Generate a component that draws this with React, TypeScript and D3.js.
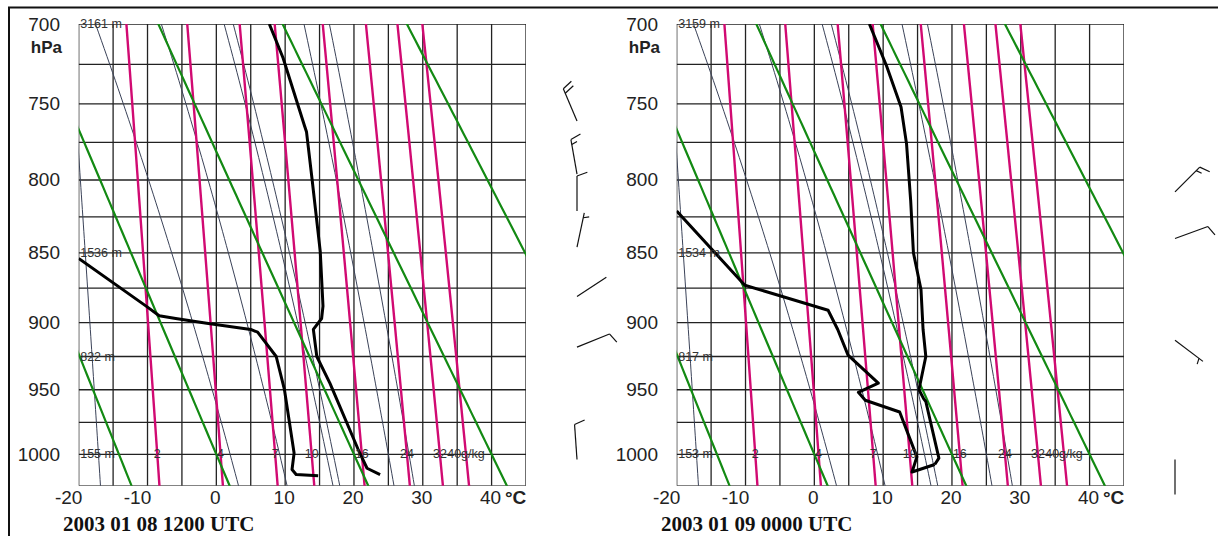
import React from 'react';
import * as d3 from 'd3';

// ---------- data ----------
const isobarLevels = [700, 725, 750, 775, 800, 825, 850, 875, 900, 925, 950, 975, 1000, 1025];
const isothermValues = [-20, -15, -10, -5, 0, 5, 10, 15, 20, 25, 30, 35, 40, 45];
const pressureLabels = [700, 750, 800, 850, 900, 950, 1000];
const tempLabels = [-20, -10, 0, 10, 20, 30, 40];
const dryThetaK = [259, 273.15, 293.15, 313.15, 333.15];
const mixRatios = [2, 4, 7, 10, 16, 24, 32, 40];
const mixLabels = ['2', '4', '7', '10', '16', '24', '32', '40g/kg'];
const thinMixRatios = [1];
const moistT1000 = [2, 9.2, 16, 17, 25, 28];
const heightLevels = [700, 850, 925, 1000];
const heightsA = ['3161 m', '1536 m', '822 m', '155 m'];
const heightsB = ['3159 m', '1534 m', '817 m', '153 m'];

// [pressure hPa, temperature °C]
const tempA: [number, number][] = [
  [700, 7.7], [721, 9.7], [764, 12.8], [768, 13.1], [799, 13.9], [849, 15.1], [888, 15.5],
  [897, 15.3], [905, 14.1], [925, 14.6], [945, 16.5], [996, 20.6], [1011, 21.9], [1016, 23.8],
];
const dewA: [number, number][] = [
  [854, -20], [888, -10.2], [895, -8.3], [897, -5.9], [900.5, -1.4], [905, 5.0], [907, 6.0],
  [925, 8.7], [950, 9.9], [999, 11.3], [1012, 11.0], [1016, 11.6], [1017, 14.8],
];
const tempB: [number, number][] = [
  [700, 8.0], [726, 10.5], [752, 12.6], [776, 13.4], [814, 14.0], [850, 14.4], [876, 15.5],
  [905, 15.8], [925, 16.2], [950, 15.2], [957, 15.9], [959, 16.2], [1003, 18.1], [1008, 17.5],
];
const dewB: [number, number][] = [
  [821, -20], [873, -10.1], [891, 2.0], [905, 3.4], [924, 4.9], [945, 9.3], [952, 6.4],
  [958, 7.4], [967, 12.4], [1002, 14.9], [1014, 14.2], [1008, 17.5],
];
// [pressure, direction deg, speed kt]
const windA: [number, number, number][] = [
  [761, 337, 20], [796, 350, 15], [821, 360, 10], [846, 12, 5], [881, 57, 0], [918, 68, 10], [1004, 356, 10],
];
const windB: [number, number, number][] = [
  [808, 45, 15], [840, 70, 10], [913, 127, 5], [1004, 180, 0],
];

// ---------- physics helpers for guide lines ----------
const KAPPA = 0.286;
const Rd = 287.04, CP = 1005.7, LV = 2.501e6, EPS = 0.622;
const satVap = (tc: number) => 6.112 * Math.exp((17.67 * tc) / (tc + 243.5));
const dewFromMix = (w: number, p: number) => {
  const e = (w * p) / (622 + w);
  const l = Math.log(e / 6.112);
  return (243.5 * l) / (17.67 - l);
};
const lapse = (p: number, T: number) => {
  const es = satVap(T - 273.15);
  const rs = (EPS * es) / (p - es);
  return ((Rd * T + LV * rs) / p) / (CP + (LV * LV * rs * EPS) / (Rd * T * T));
};
const moistLine = (t1000: number) => {
  const up: [number, number][] = [];
  let T = t1000 + 273.15;
  for (let p = 1000; p >= 695; p -= 5) {
    up.push([p, T - 273.15]);
    const k1 = lapse(p, T);
    const k2 = lapse(p - 2.5, T - 2.5 * k1);
    T -= 5 * k2;
  }
  const down: [number, number][] = [];
  T = t1000 + 273.15;
  for (let p = 1000; p <= 1030; p += 5) {
    down.push([p, T - 273.15]);
    const k1 = lapse(p, T);
    const k2 = lapse(p + 2.5, T + 2.5 * k1);
    T += 5 * k2;
  }
  return [...down.reverse(), ...up.slice(1)];
};
const pressSteps = d3.range(695, 1031, 5);

const GREEN = '#138a13';
const MAGENTA = '#d10a72';
const THIN = '#3a4258';
const GRID = '#222';

const yScale = d3.scalePow().exponent(KAPPA).domain([700, 1025]).range([24, 485.8]);

function Barb({ ax, ay, dir, spd }: { ax: number; ay: number; dir: number; spd: number }) {
  const L = 35;
  const r = (dir * Math.PI) / 180;
  const ux = Math.sin(r), uy = -Math.cos(r);
  const tx = ax + L * ux, ty = ay + L * uy;
  const px = -uy, py = ux;
  const ang = (70 * Math.PI) / 180;
  const fx = px * Math.sin(ang) + ux * Math.cos(ang);
  const fy = py * Math.sin(ang) + uy * Math.cos(ang);
  const feathers: any[] = [];
  let rem = Math.round(spd / 5) * 5;
  let pos = 0;
  let i = 0;
  while (rem >= 10) {
    const sx = tx - pos * ux, sy = ty - pos * uy;
    feathers.push(<line key={i++} x1={sx} y1={sy} x2={sx + 11 * fx} y2={sy + 11 * fy} />);
    rem -= 10; pos += 5;
  }
  if (rem >= 5) {
    if (pos === 0) pos = 5;
    const sx = tx - pos * ux, sy = ty - pos * uy;
    feathers.push(<line key={i++} x1={sx} y1={sy} x2={sx + 6 * fx} y2={sy + 6 * fy} />);
  }
  return (
    <g stroke="#111" strokeWidth={1.2} fill="none">
      <line x1={ax} y1={ay} x2={tx} y2={ty} />
      {feathers}
    </g>
  );
}

function Panel({ dx, title, heights, temp, dew, wind, id }: any) {
  const x = d3.scaleLinear().domain([-20, 45]).range([78.7 + dx, 526 + dx]);
  const y = yScale;
  const line = d3.line<[number, number]>().x((d) => x(d[1])).y((d) => y(d[0]));
  const x0 = x(-20), x1 = x(45), y0 = y(700), y1 = y(1025);
  return (
    <g>
      <defs>
        <clipPath id={id}>
          <rect x={x0} y={y0} width={x1 - x0} height={y1 - y0} />
        </clipPath>
      </defs>
      <g clipPath={`url(#${id})`}>
        {isobarLevels.map((p) => (
          <line key={'p' + p} x1={x0} x2={x1} y1={y(p)} y2={y(p)} stroke={GRID} strokeWidth={1.3} />
        ))}
        {isothermValues.map((t) => (
          <line key={'t' + t} x1={x(t)} x2={x(t)} y1={y0} y2={y1} stroke={GRID} strokeWidth={1.3} />
        ))}
        {moistT1000.map((t) => (
          <path key={'m' + t} d={line(moistLine(t)) || ''} fill="none" stroke={THIN} strokeWidth={1} />
        ))}
        {thinMixRatios.map((w) => (
          <path key={'tw' + w} d={line(pressSteps.map((p) => [p, dewFromMix(w, p)] as [number, number])) || ''}
            fill="none" stroke={THIN} strokeWidth={1} />
        ))}
        {mixRatios.map((w) => (
          <path key={'w' + w} d={line(pressSteps.map((p) => [p, dewFromMix(w, p)] as [number, number])) || ''}
            fill="none" stroke={MAGENTA} strokeWidth={2.4} />
        ))}
        {dryThetaK.map((th) => (
          <path key={'d' + th}
            d={line(pressSteps.map((p) => [p, th * Math.pow(p / 1000, KAPPA) - 273.15] as [number, number])) || ''}
            fill="none" stroke={GREEN} strokeWidth={2.2} />
        ))}
        <path d={line(temp) || ''} fill="none" stroke="#000" strokeWidth={3} strokeLinejoin="round" />
        <path d={line(dew) || ''} fill="none" stroke="#000" strokeWidth={3} strokeLinejoin="round" />
      </g>
      {heightLevels.map((p, i) => (
        <text key={'h' + p} x={x0 + 1.5} y={y(p)} dominantBaseline="central" fontSize={12.5}
          fontFamily="Liberation Sans, Arial, sans-serif" fill="#333">{heights[i]}</text>
      ))}
      {mixRatios.map((w, i) => (
        <text key={'wl' + w} x={x(dewFromMix(w, 1000))} y={y(1000)} dominantBaseline="central" textAnchor="middle"
          fontSize={12.5} fontFamily="Liberation Sans, Arial, sans-serif" fill="#333">{mixLabels[i]}</text>
      ))}
      {pressureLabels.map((p) => (
        <text key={'pl' + p} x={60 + dx} y={y(p)} dominantBaseline="central" textAnchor="end" fontSize={19}
          fontFamily="Liberation Sans, Arial, sans-serif" fill="#222">{p}</text>
      ))}
      <text x={62 + dx} y={53} textAnchor="end" fontSize={17} fontWeight="bold"
        fontFamily="Liberation Sans, Arial, sans-serif" fill="#222">hPa</text>
      {tempLabels.map((t) => (
        <text key={'tl' + t} x={x(t) + (t < 0 ? -10 : -1)} y={504} textAnchor="middle" fontSize={19}
          fontFamily="Liberation Sans, Arial, sans-serif" fill="#222">{t}</text>
      ))}
      <text x={505 + dx} y={504} fontSize={19} fontWeight="bold"
        fontFamily="Liberation Sans, Arial, sans-serif" fill="#222">°C</text>
      <text x={63 + dx} y={531} fontSize={21} fontWeight="bold"
        fontFamily="Liberation Serif, Times New Roman, serif" fill="#111">{title}</text>
      {wind.map((w: [number, number, number], i: number) => (
        <Barb key={'b' + i} ax={577 + dx} ay={y(w[0])} dir={w[1]} spd={w[2]} />
      ))}
    </g>
  );
}

export default function App() {
  return (
    <svg width={1218} height={536} style={{ position: 'absolute', left: 0, top: 0, background: '#fff' }}>
      <rect x={0} y={0} width={1218} height={536} fill="#fff" />
      <rect x={9} y={7.5} width={1230} height={550} fill="none" stroke="#111" strokeWidth={2} />
      <Panel id="clipA" dx={0} title="2003 01 08 1200 UTC" heights={heightsA} temp={tempA} dew={dewA} wind={windA} />
      <Panel id="clipB" dx={598} title="2003 01 09 0000 UTC" heights={heightsB} temp={tempB} dew={dewB} wind={windB} />
    </svg>
  );
}
